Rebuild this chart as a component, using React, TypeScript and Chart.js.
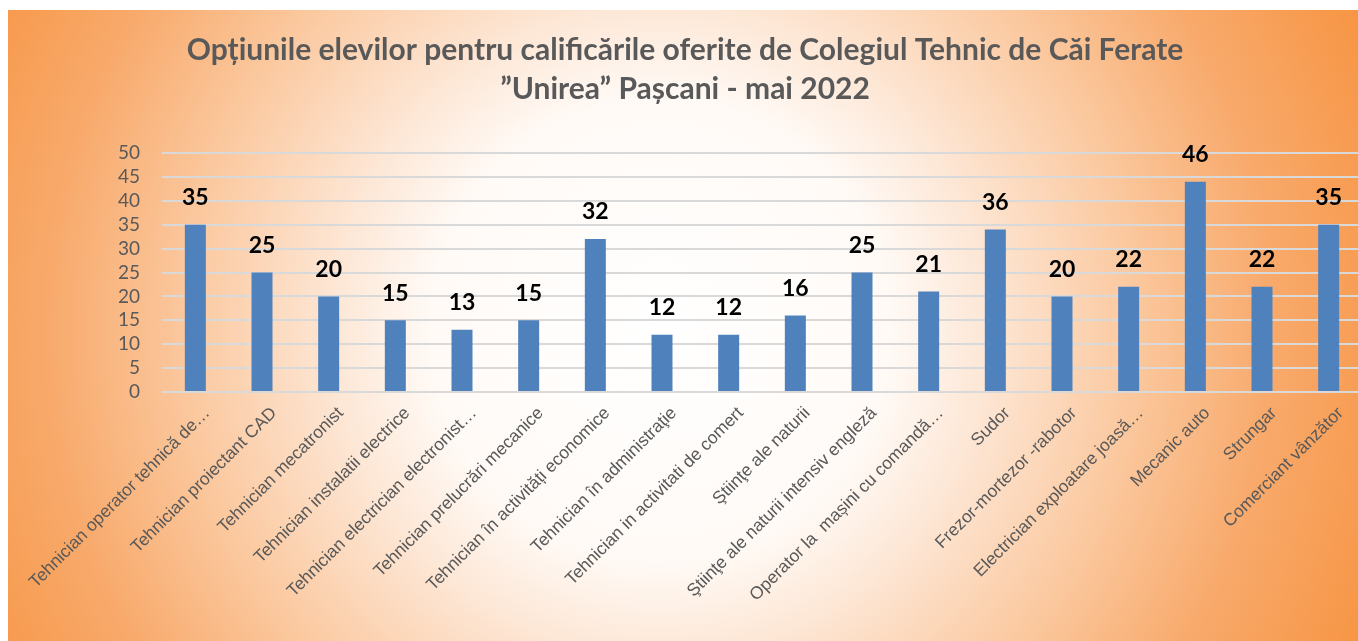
import React, { useEffect, useRef } from "react";
import { Chart, registerables } from "chart.js";

Chart.register(...registerables);

const categories = [
  "Tehnician operator tehnică de…",
  "Tehnician proiectant CAD",
  "Tehnician mecatronist",
  "Tehnician instalatii electrice",
  "Tehnician electrician electronist…",
  "Tehnician prelucrări mecanice",
  "Tehnician în activități economice",
  "Tehnician în administraţie",
  "Tehnician in activitati de comert",
  "Ştiinţe ale naturii",
  "Ştiinţe ale naturii intensiv engleză",
  "Operator la  mașini cu comandă…",
  "Sudor",
  "Frezor-mortezor -rabotor",
  "Electrician exploatare joasă…",
  "Mecanic auto",
  "Strungar",
  "Comerciant vânzător",
];

// bar heights as drawn in the picture
const barValues = [35, 25, 20, 15, 13, 15, 32, 12, 12, 16, 25, 21, 34, 20, 22, 44, 22, 35];
// data labels as printed above the bars
const labelValues = [35, 25, 20, 15, 13, 15, 32, 12, 12, 16, 25, 21, 36, 20, 22, 46, 22, 35];

const yMin = 0;
const yMax = 50;
const yStep = 5;

const titleLines = [
  "Opțiunile elevilor pentru calificările oferite de Colegiul Tehnic de Căi Ferate",
  "”Unirea” Pașcani - mai 2022",
];

const barLabelPlugin = {
  id: "barLabels",
  afterDatasetsDraw(chart: any) {
    const ctx = chart.ctx;
    const meta = chart.getDatasetMeta(0);
    ctx.save();
    ctx.font = "bold 23px Lato";
    ctx.fillStyle = "#000000";
    ctx.textAlign = "center";
    ctx.textBaseline = "middle";
    meta.data.forEach((el: any, i: number) => {
      ctx.fillText(String(labelValues[i]), el.x, el.y - 27);
    });
    ctx.restore();
  },
};

export default function App() {
  const canvasRef = useRef<HTMLCanvasElement | null>(null);

  useEffect(() => {
    if (!canvasRef.current) return;
    const chart = new Chart(canvasRef.current, {
      type: "bar",
      data: {
        labels: categories,
        datasets: [
          {
            data: barValues,
            backgroundColor: "#4F81BD",
            borderWidth: 0,
            barPercentage: 0.315,
            categoryPercentage: 1,
          },
        ],
      },
      options: {
        animation: false,
        responsive: false,
        maintainAspectRatio: false,
        layout: { padding: 0 },
        plugins: {
          legend: { display: false },
          tooltip: { enabled: false },
          title: {
            display: true,
            text: titleLines,
            color: "#595959",
            font: { family: "Lato", size: 30, weight: "bold", lineHeight: 1.3 },
            padding: { top: 21, bottom: 44 },
          },
        },
        scales: {
          x: {
            grid: { display: false },
            border: { display: false },
            ticks: {
              autoSkip: false,
              minRotation: 45,
              maxRotation: 45,
              color: "#595959",
              font: { family: "Liberation Sans", size: 17.5 },
              padding: 3,
              labelOffset: 12,
            },
            afterFit: (scale: any) => {
              scale.height = 249;
            },
          },
          y: {
            min: yMin,
            max: yMax,
            grid: { color: "#D9D9D9", lineWidth: 2, drawTicks: false },
            border: { display: false },
            ticks: {
              stepSize: yStep,
              autoSkip: false,
              color: "#595959",
              font: { family: "Lato", size: 19 },
              padding: 22,
            },
            afterFit: (scale: any) => {
              scale.width = 154;
            },
          },
        },
      },
      plugins: [barLabelPlugin],
    });
    return () => chart.destroy();
  }, []);

  return (
    <div
      style={{
        position: "fixed",
        left: 8,
        top: 10,
        width: 1354,
        height: 631,
        background:
          "radial-gradient(circle at 652px 320px, #ffffff 0px, #fffaf6 230px, #fde6d4 330px, #fbc9a0 470px, #f8aa6c 610px, #f79646 760px)",
      }}
    >
      <canvas ref={canvasRef} width={1354} height={631} style={{ display: "block" }} />
    </div>
  );
}
